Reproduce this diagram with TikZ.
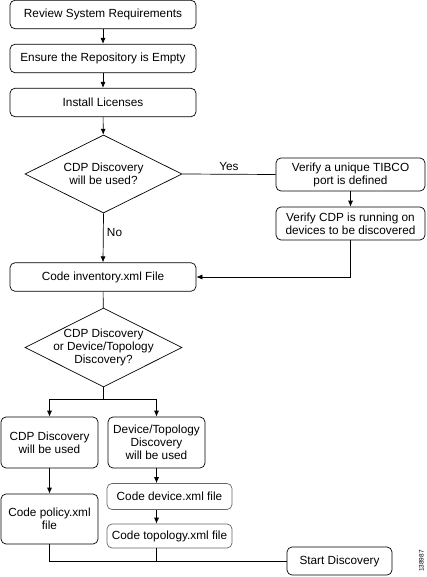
\documentclass[tikz,border=0pt]{standalone}
\usepackage{fontspec}
\setmainfont{Liberation Sans}
\usetikzlibrary{shapes.geometric, arrows.meta, positioning, calc}

\begin{document}
\begin{tikzpicture}[x=1pt, y=-1pt, >={Latex[length=6pt,width=5pt]}, line width=0.7pt,
        font=\fontsize{11.8}{13}\selectfont,
        stepbox/.style={draw, rounded corners=5pt, align=center, inner sep=1pt},
        widebox/.style={stepbox, minimum width=186pt, minimum height=28.5pt},
        decision/.style={draw, diamond, aspect=2, inner sep=-8pt, align=center,
            minimum width=157pt, minimum height=78pt}]
        \useasboundingbox (0,0) rectangle (427,577);

        % Preparation steps
        \node[widebox] (review) at (103,14.5) {Review System Requirements};
        \node[widebox] (ensure) at (103,58.5) {Ensure the Repository is Empty};
        \node[widebox] (install) at (103,102.5) {Install Licenses};
        \node[decision] (cdpq) at (103.5,174) {CDP Discovery\\will be used?};

        % CDP checks
        \node[stepbox, minimum width=149pt, minimum height=33pt] (verify1) at (350.5,174.5) {Verify a unique TIBCO\\port is defined};
        \node[stepbox, minimum width=149pt, minimum height=33pt] (verify2) at (350.5,223.5) {Verify CDP is running on\\devices to be discovered};

        % Inventory and discovery mode
        \node[widebox] (inventory) at (103,277) {Code inventory.xml File};
        \node[decision, minimum height=79pt] (mode) at (103.5,347.5) {CDP Discovery\\or Device/Topology\\Discovery?};
        \coordinate (split) at (103.5,399);

        % Discovery branches
        \node[stepbox, minimum width=97pt, minimum height=51pt] (cdpuse) at (49.5,442.5) {CDP Discovery\\will be used};
        \node[stepbox, minimum width=97pt, minimum height=51pt] (devuse) at (156.5,442.5) {Device/Topology\\Discovery\\will be used};
        \node[stepbox, minimum width=97pt, minimum height=50pt] (policy) at (49.5,519) {Code policy.xml\\file};
        \node[stepbox, draw=black!60, minimum width=125pt, minimum height=26pt] (devicexml) at (169.5,496.5) {Code device.xml file};
        \node[stepbox, draw=black!60, minimum width=125pt, minimum height=24pt] (topoxml) at (169.5,536) {Code topology.xml file};
        \node[stepbox, minimum width=105pt, minimum height=28pt] (start) at (339.5,561) {Start Discovery};
        \node[rotate=90, font=\fontsize{6.5}{7}\selectfont] (figid) at (421.5,561) {138987};

        % Main flow
        \draw[->] (review) -- (ensure);
        \draw[->] (ensure) -- (install);
        \draw[->] (install) -- (cdpq);
        \draw (cdpq.east) -- node[above] (yes) {Yes} (verify1.west);
        \draw[->] (verify1) -- (verify2);
        \draw[->] (verify2.south) |- (inventory.east);
        \draw[->] (cdpq.south) -- node[right, pos=0.4] (no) {No} (inventory.north);
        \draw (inventory) -- (mode);

        % Branches
        \draw (mode.south) -- (split);
        \draw[->] (split) -| (cdpuse.north);
        \draw[->] (split) -| (devuse.north);
        \draw[->] (cdpuse) -- (policy);
        \draw[->] (devuse.south) -- (devuse.south |- devicexml.north);
        \draw[->] (devicexml.south -| devuse.south) -- (devuse.south |- topoxml.north);

        % Joining to start
        \draw (policy.south) |- (start.west);
        \draw (topoxml.south -| devuse.south) -- (devuse.south |- start.west);
    \end{tikzpicture}
\end{document}
